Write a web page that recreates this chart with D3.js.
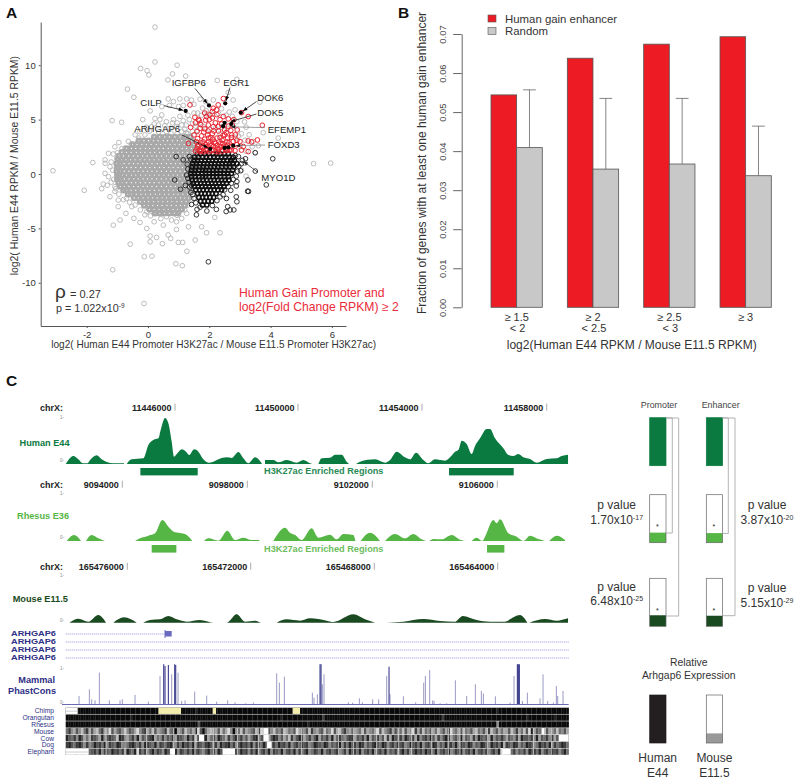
<!DOCTYPE html>
<html><head><meta charset="utf-8">
<script src="https://cdn.jsdelivr.net/npm/d3@7"></script>
<style>html,body{margin:0;padding:0;background:#fff}svg{display:block}text{font-family:"Liberation Sans",Arial,sans-serif}</style>
</head><body><svg id="c" width="800" height="783"></svg>
<script>
/* ---------- Panel A: read values, log2 promoter ratio (x) / log2 RPKM ratio (y) ---------- */
const grayCoreRows = [
[3.4,.2,.38,.55,.7,.88,1.05,1.22,1.38],
[3.05,-.3,-.13,.02,.18,.33,.5,.64,.8,.96,1.1,1.27,1.43],
[2.7,-.5,-.36,-.2,-.05,.1,.27,.41,.56,.72,.88,1.02,1.18,1.33,1.5],
[2.35,-.7,-.54,-.4,-.25,-.08,.05,.2,.35,.5,.66,.8,.95,1.12,1.26,1.42,1.56],
[2.0,-.85,-.7,-.55,-.38,-.24,-.1,.07,.22,.38,.52,.68,.82,.98,1.13,1.28,1.44,1.58],
[1.65,-.95,-.8,-.63,-.48,-.33,-.17,-.03,.13,.28,.44,.6,.74,.9,1.05,1.2,1.36,1.5],
[1.3,-.98,-.88,-.72,-.57,-.42,-.26,-.1,.05,.2,.35,.5,.66,.82,.96,1.12,1.27,1.42,1.55],
[.95,-1.02,-.92,-.78,-.62,-.47,-.33,-.17,-.02,.13,.3,.44,.6,.75,.9,1.04,1.2,1.35,1.5],
[.6,-1.0,-.96,-.84,-.7,-.55,-.4,-.24,-.08,.06,.22,.38,.52,.68,.82,.98,1.12,1.28,1.43],
[.25,-1.02,-.92,-.77,-.62,-.46,-.32,-.16,-.02,.13,.29,.44,.6,.74,.9,1.05,1.2,1.36,1.48],
[-.1,-1.0,-.95,-.84,-.7,-.54,-.4,-.24,-.08,.06,.21,.36,.52,.67,.82,.96,1.12,1.27,1.42],
[-.45,-1,-.92,-.77,-.62,-.46,-.32,-.16,-.01,.13,.28,.44,.59,.74,.88,1.04,1.2,1.34],
[-.8,-.96,-.85,-.7,-.54,-.4,-.25,-.09,.06,.2,.36,.52,.66,.82,.96,1.12,1.26,1.38],
[-1.15,-.9,-.78,-.62,-.47,-.32,-.16,-.02,.13,.28,.44,.6,.74,.89,1.04,1.2,1.33],
[-1.5,-.8,-.7,-.55,-.4,-.24,-.1,.06,.21,.36,.52,.67,.82,.96,1.12,1.26,1.36],
[-1.85,-.65,-.54,-.38,-.23,-.08,.08,.24,.38,.54,.68,.84,.98,1.14,1.29],
[-2.2,-.45,-.32,-.16,0,.15,.3,.46,.6,.76,.9,1.06,1.2,1.32],
[-2.55,-.25,-.12,.02,.18,.33,.48,.64,.78,.94,1.1,1.24],
[-2.9,-.12,0,.16,.31,.46,.62,.76,.92,1.06,1.2],
[-3.25,.05,.2,.36,.52,.66,.82,.96,1.1],
[-3.6,.22,.38,.54,.7,.86,.98]
];
const grayHalo = [
[.23,13.5],[.23,10.3],[.95,10],[-.24,9.7],[-.03,9.5],[.03,9.1],[.8,9.2],[1.23,9],[.65,8.65],[2.26,8.6],[2.62,7.5],[2.9,8.7],
[-.67,7.8],[-.46,7.05],[-1.17,4.9],[-.86,4.75],[.07,5.8],[-.17,5],[-3.1,.3],[-1.8,1.05],[-2.08,-1.5],[5.4,.95],[5.96,1],
[-.13,-11.9],[-1.15,-8.8],[-.12,-7.6],[.13,-7.55],[.91,-8.25],[1.12,-8.43],[1.27,-7.1],[-.58,-6.45],[.47,-6.4],
[.66,6.9],[.83,6.65],[1.04,6.9],[1.26,6.9],[1.42,6.8],[1.7,6.87],[1.88,6.65],[2.13,6.8],[2.78,6.8],[2.84,5.9],[3.65,6.6],[3.76,3.8],[4.25,3.3],
[.45,5.43],[.23,5.1],[.39,5],[.6,4.8],[.83,5],[1.04,5.3],[.12,4.35],[.34,4.5],[.72,4.2],[.93,4.35],[1.1,3.9],[-.26,3.9],[-.42,3.6],[-.1,3.6],
[-.64,3],[-.95,2.9],[-1.08,2.5],[-.75,2.36],[-1.29,1.9],[-1.13,1.84],[-1.4,1.3],[-1.02,1.44],[-1.4,.98],[-1.24,.67],[-1.4,.06],[-1.29,-.25],
[-1.46,-.92],[-1.51,-1.35],[-1.33,-1.04],[-1.24,-2.09],[-1.08,-1.17],[-1.08,-1.6],[-.97,-2.4],[-.97,-3],[-.7,-2.24],[-.53,-3],[-.72,-3.62],
[-.91,-4.23],[-1.13,-4.7],[-.46,-4.08],[-.26,-4.45],[-.04,-5],[-.04,-3.47],[.2,-4.39],[.5,-4.7],[.77,-4.23],[.93,-4.39],[1.32,-4.85],[1.75,-4.85],
[1.91,-5.4],[2.35,-5.4],[.93,-5.1],[.07,-5.7],[.28,-5.83],[.07,-6.23],[.66,-5.6],[.74,-5.92],[.99,-6.29],[1.13,-6.29],[1.54,-6.07],[2.18,-3.99],
[1.26,-3.62],[1.1,-4.08],[.6,-3.93],[.28,-3.62],[3.16,.98],[3,2.5],[3.16,3.1],[3.43,3],[3.49,1.96],[.75,3.75],[.95,3.7],[1.2,4.1],[1.45,4.6],
[1.62,5.6],[1.3,5.4],[1.78,6.05],[2.3,5.55],[2.55,5.4],[2.9,4.8],[2.35,3.7],[2.95,3.5],[3.2,2.1],[1.15,4.9],[.55,4.45],[.05,3.95],[3.05,.35],[3.2,-.2],
[1.3,3.7],[1.45,3.9],[1.6,4],[1.8,4.4],[1.55,4.4],[1.25,4.5],[1.35,5],[1.5,5.6],[1.75,5.4],[1.9,5.8],[2.1,5.5],[2.4,6],[2.65,5.7],[2.75,5.3],[3.15,4.8],[3.2,4.3],[3.3,3.6],[3.05,3.7],[2.85,3.3],[3.4,2.5],[3.6,2.6],[2.6,4.2],[2.4,4.3],[2.2,4.2],[2,4.1],[1.7,4.7],[1.95,5.5],[1.1,4.5],[.8,4.7],[.6,3.9],[.35,3.85],[1.25,3.8],[.95,4.7],[.2,4.6],[-.05,4.3],[1,6.2],[.7,6.3],[1.15,6.3],[1.5,6.4],[.45,6.2],
[-.3,3.3],[-.55,2.75],[-.85,2.35],[-1,1.95],[-1.2,1.1],[-1.15,.35],[-1.12,-.5],[-1.2,-.75],[-1.05,-1.35],[-.95,-1.85],[-.8,-2.35],[-.6,-2.6],[-.42,-2.85],[-.25,-3.3],[-.1,-3.75],[.08,-3.85],[.42,-4.1],[.95,-3.8],[1.2,-3.3],[1.3,-2.85],[1.42,-2.4]
];
const blackCoreRows = [
[1.85,1.72,1.86,1.98,2.12,2.24,2.36,2.5,2.62],
[1.55,1.52,1.64,1.78,1.9,2.02,2.15,2.27,2.4,2.52,2.66,2.78],
[1.25,1.5,1.62,1.74,1.86,1.98,2.1,2.22,2.34,2.46,2.58,2.7,2.82],
[.95,1.46,1.58,1.7,1.82,1.94,2.06,2.18,2.3,2.42,2.54,2.66,2.78,2.9],
[.65,1.44,1.56,1.68,1.8,1.92,2.04,2.16,2.28,2.4,2.54,2.66,2.8],
[.35,1.42,1.54,1.66,1.78,1.88,2,2.12,2.24,2.36,2.5,2.62,2.76],
[.05,1.4,1.52,1.64,1.76,1.88,2,2.12,2.24,2.36,2.48,2.6,2.72],
[-.25,1.42,1.54,1.66,1.78,1.88,2,2.12,2.24,2.36,2.5,2.62],
[-.55,1.44,1.56,1.68,1.8,1.92,2.04,2.16,2.28,2.4,2.52,2.64],
[-.85,1.48,1.6,1.72,1.84,1.96,2.08,2.2,2.32,2.44,2.56],
[-1.15,1.52,1.64,1.76,1.88,2,2.12,2.24,2.36,2.48],
[-1.45,1.56,1.68,1.8,1.92,2.04,2.16,2.28,2.4],
[-1.8,1.62,1.74,1.86,1.98,2.1,2.22],
[-2.15,1.66,1.78,1.9,2.02,2.14],
[-2.5,1.72,1.84,1.96,2.08],
[-2.85,1.78,1.92]
];
const blackHalo = [
[1.97,-8.07],[4.07,1.4],[3.86,-1],[3.5,.27],[3.26,-.55],[3.25,-1.58],[3.28,-1.6],[3.5,1.95],[3.18,1.4],[3.08,1.25],[2.9,-.7],[3.02,.3],
[.92,1.6],[1.15,1.3],[.87,-.55],[1.06,-1.4],[1.22,-1.05],[1.42,-2.8],[1.6,-3.25],[1.58,-3.75],[2.23,-3.25],[2.55,-3.45],[2.68,-3.3],[2.8,-3.3],
[2.6,-3],[2.56,-2.25],[2.88,-2.1],[2.9,-2.55],[2.45,-1.9],[2.7,-1.5],[2.88,-1.1],[2.75,1],[2.95,1.6],[1.35,1.6],[1.26,-.1],[1.4,-1.7],[1.92,-3.4],
[1.28,.9],[1.3,.45],[1.3,-.4],[1.34,-.75],[1.36,-1.2],[1.42,-1.05],[1.46,-1.9],[1.5,-2.25],[1.56,-2.65],[1.7,-3.05],[2.1,-2.9],[2.25,-2.45],[2.35,-2.1],[2.5,-1.45],[2.62,-1.15],[2.72,-.85],[2.78,-.5],[2.88,-.2],[2.92,.25],[2.96,.7],[3.05,.95],[1.4,1.35],[1.62,1.85],[2.75,1.4],[2.85,1.7]
];
const redHalo = [
[1.37,6.35],[2.46,6.93],[2.29,6.35],[2.13,6.04],[2.02,5.43],[1.91,5.28],[1.53,5.21],[1.67,4.91],[1.7,4.2],[1.39,4.29],[1.5,3.59],[1.32,2.82],
[1.97,4.5],[2.13,4.35],[2.24,5.9],[2.46,5.28],[2.62,5.06],[3.27,5.28],[3.05,5.64],[3.73,4.48],[2.91,4.05],[2.73,3.59],[3,2.98],[3.27,3.04],[3.38,2.95],
[3.57,3.13],[3.11,2.52],[3.27,2.06],[3.05,2.2],[2.84,2.15],[1.65,5.02],[2,5],[2.2,4.7],[2.35,5],[1.82,3.85],[1.95,3.6],[2.1,3.7],[2.3,3.95],
[2.45,3.55],[2.6,3.3],[2.7,4],[1.75,3.5],[1.62,3.25],[1.85,3.2],[2.05,3.35],[2.25,3.3],[2.42,3.1],[2.58,2.95],[2.78,3],[2.9,2.7],
[1.55,2.1],[1.62,2.55],[1.68,2.2],[1.72,2.85],[1.78,2.4],[1.82,2.05],[1.88,2.7],[1.92,2.3],[1.98,2.95],[2,2.05],[2.06,2.6],[2.12,2.25],[2.17,2.95],
[2.22,2.05],[2.26,2.6],[2.32,2.3],[2.38,2.85],[2.42,2.1],[2.48,2.55],[2.54,2.15],[2.6,2.65],[2.66,2.2],[2.7,2.5],[2.5,3.6],[1.58,2.95],[1.7,2.05],[1.8,2.95],[2.3,2.05],
[1.6,2.3],[1.66,2.7],[1.74,2.15],[1.84,2.5],[1.9,2.15],[1.96,2.55],[2.02,2.75],[2.08,2.15],[2.14,2.55],[2.2,2.8],[2.28,2.3],[2.36,2.55],[2.44,2.8],[2.52,2.35],[2.58,2.2],[2.64,2.85],[2.72,2.2],
[1.88,4.95],[1.72,4.55],[1.85,4.15],[2.15,3.95],[2.3,4.35],[2.5,4.05],[2.55,3.8],[2.75,4.5],[2.85,3.6],[2.1,5.15],[2.25,5.45],[2.4,4.6],[2.62,4.4],[2.8,5],[1.96,3.95],[1.6,3.9],[1.55,4.7],[2.12,3.2],[1.98,3.3],[2.35,3.35],[2.72,3.35],[2.9,3.1],[1.85,5.6],[2.1,5.75]
];
const genesHit = [[1.99,6.3],[2.52,6.5],[3.03,5.65],[1.23,5.8],[2.5,4.7],[2.45,4.4],[2.72,4.6],[2.03,2.3],[2.5,2.4],[2.62,2.45],[2.78,2.6]];
const calloutNames = ["IGFBP6","EGR1","DOK6","CILP","DOK5","EFEMP1","ARHGAP6","FOXD3","MYO1D"];
const calloutTargets = [[1.99,6.3],[2.52,6.5],[3.03,5.65],[1.23,5.8],[2.62,4.75],[2.62,4.35],[2.03,2.3],[2.78,2.6],[3.05,1.3]];
const xTicksA = [-2,0,2,4,6], yTicksA = [-10,-5,0,5,10];

/* ---------- Panel B ---------- */
const thresholds = [["≥ 1.5","< 2"],["≥ 2","< 2.5"],["≥ 2.5","< 3"],["≥ 3",""]];
const humanGain = [.0544,.0638,.0674,.0693];
const randomMean = [.0409,.0354,.0367,.0337];
const randomUpper = [.0557,.0535,.0535,.0464];
const yTicksB = [0,.01,.02,.03,.04,.05,.06,.07];

/* ---------- Panel C: signal read along the browser track (track position, signal) ---------- */
const humanE44 = [[197,0],[205,12],[220,24],[235,14],[248,2],[262,2],[270,12],[290,26],[305,14],[320,6],[340,2],[372,2],[373,null],[380,0],[395,14],[430,17],[445,57],[460,72],[475,77],[482,102],[495,138],[505,122],[515,67],[522,22],[532,32],[545,44],[558,37],[568,27],[582,44],[595,37],[610,14],[625,4],[640,7],[655,14],[680,20],[695,18],[715,36],[730,17],[745,2],[765,20],[785,2],[790,null],[795,12],[820,12],[835,5],[860,12],[870,10],[890,4],[910,12],[930,2],[936,0],[937,null],[955,0],[965,17],[990,19],[1005,28],[1025,28],[1040,7],[1047,0],[1048,null],[1068,0],[1080,7],[1125,14],[1155,4],[1170,12],[1190,37],[1215,20],[1230,14],[1248,34],[1270,12],[1285,2],[1305,14],[1335,10],[1350,20],[1365,37],[1375,42],[1385,70],[1400,60],[1415,30],[1425,54],[1440,77],[1460,105],[1470,105],[1485,77],[1510,47],[1525,27],[1540,24],[1555,30],[1570,20],[1590,15],[1610,4],[1640,15],[1670,17],[1685,24],[1704,28]];
const rhesusE36 = [[200,0],[222,18],[243,0],[244,null],[258,0],[275,18],[295,8],[315,0],[316,null],[405,0],[420,8],[445,16],[465,23],[487,63],[505,43],[525,26],[545,23],[560,18],[577,0],[578,null],[612,0],[625,8],[655,1],[682,31],[705,3],[730,10],[755,3],[778,3],[779,null],[820,0],[855,40],[870,25],[885,18],[905,3],[935,38],[955,10],[990,19],[1010,5],[1030,21],[1060,18],[1066,0],[1067,null],[1082,0],[1110,25],[1140,0],[1141,null],[1155,0],[1185,21],[1215,8],[1240,21],[1265,5],[1278,0],[1279,null],[1288,0],[1300,6],[1325,5],[1355,18],[1380,4],[1403,0],[1404,null],[1415,0],[1430,10],[1447,0],[1455,13],[1480,63],[1490,53],[1500,65],[1525,23],[1550,13],[1570,0],[1590,16],[1615,6],[1635,0],[1636,null],[1648,0],[1670,16],[1695,3]];
const mouseE115 = [[208,0],[235,12],[265,3],[295,23],[318,0],[319,null],[340,0],[372,16],[410,0],[411,null],[430,0],[450,8],[480,10],[505,20],[530,10],[560,3],[600,8],[640,0],[680,0],[710,25],[735,3],[765,6],[785,0],[815,0],[816,null],[830,0],[860,10],[900,6],[930,13],[980,6],[1000,2],[1060,25],[1095,10],[1125,0],[1126,null],[1160,0],[1210,3],[1270,11],[1320,5],[1365,3],[1388,20],[1430,8],[1470,3],[1510,3],[1560,23],[1582,0],[1583,null],[1588,0],[1635,11],[1670,6],[1704,13]];
const humanRegions = [[421,593],[1347,1541]];
const rhesusRegions = [[455,529],[1461,1513]];
const phastPos = [237,268,275,285,298,328,360,367,405,445,480,491,495,505,515,524,527,534,545,555,584,620,650,683,705,737,760,830,838,853,937,942,952,960,963,967,972,1045,1058,1078,1087,1118,1136,1160,1167,1170,1210,1247,1271,1276,1289,1298,1302,1320,1340,1366,1400,1426,1444,1450,1486,1530,1542,1552,1555,1558,1567,1582,1620,1629,1643,1660,1669,1673,1689];
const phastHeight = [25,45,15,12,95,12,12,15,28,8,85,120,115,118,90,120,118,95,10,12,38,26,8,12,6,3,5,93,65,83,35,20,30,120,120,60,90,6,5,18,6,15,15,85,113,30,24,6,65,85,103,12,10,3,3,72,25,60,40,32,24,5,85,120,120,120,10,35,18,90,10,5,55,25,40];
const geneNames = ["ARHGAP6","ARHGAP6","ARHGAP6","ARHGAP6"];
const speciesNames = ["Chimp","Orangutan","Rhesus","Mouse","Cow","Dog","Elephant"];
const conservation = [
"0000000000000000000000000000000000000000000000000000100000000000000000000000000000000000000000000000000000000000000000000000000000000000000000000000000000000000000000000000010000000000000000000000000000",
"0000000000000000000000000010000000000000000000000000000000000000000000000000000000000010000000000000000200000000000000000000000000000000000000000000000200000000000000000000000000000000010000000000100000",
"0000000000000000000000000000000000000000000000000000030000000000000000000000000000000000000000000100000000000000000000000000000000000000000000000000000000000000000000000000050000000000000000000000000000",
"4256357425367426583643575346853264736542743065375461830467563746850547365437285635745376453864537256437458367425636547365468375426354736582637453647536285463745367453627536456375264738163457365474536",
"1342513645234615323471236425163432164525341623451427323164251346253142536421532463125364725312642531634251632453216342516342537261342513426153241362531264351634625134261534216345261334251634251637253",
"2134213523413241523412534213425123415234213524132415234213425132142531324152341253241324153241325412341253421524132412534213412532413254132415324125341324152341253412351324152341253412354132415243124",
"2343142351324152341324251341824253142351324152342413245314251342513241325241532415234153241524315423415324315425132415324153241534253142531324132415324154231532415324153241823142534251324153241325314"
];
const lightStripes = [270,318,375,440,520,585,640,712,775,905,1015,1060,1130,1195,1235,1295,1345,1380,1462,1512,1600,1655];
const yellowSpans = [[475,543],[638,648],[878,900]];
const whiteSpans = [[0,197,233],[6,197,266],[3,790,805],[3,1625,1632],[4,597,612],[4,790,806],[4,1677,1706],[5,800,815],[6,510,525],[6,668,705],[6,1507,1532]];
const relPromoter = [1,.21,.23], relEnhancer = [1,.2,.22], relExpression = [1,.2];

/* ---------- drawing ---------- */
const svg = d3.select("#c");
function txt(s,x,y,o={}){
  const t=svg.append("text").attr("x",x).attr("y",y).attr("font-size",o.size||10).attr("fill",o.fill||"#333")
    .attr("text-anchor",o.anchor||"start").attr("font-weight",o.weight||"normal").text(s);
  if(o.rotate) t.attr("transform",`rotate(${o.rotate} ${x} ${y})`);
  if(o.len) t.attr("textLength",o.len).attr("lengthAdjust","spacingAndGlyphs");
  return t;
}
function sup(t,s,size){t.append("tspan").attr("dy",-4).attr("font-size",size).text(s);}

/* Panel letters */
txt("A",6,17.7,{size:15.5,weight:"bold",fill:"#111"});
txt("B",398,17.7,{size:15.5,weight:"bold",fill:"#111"});
txt("C",6,385.7,{size:15.5,weight:"bold",fill:"#111"});

/* Panel A */
const xA=d3.scaleLinear([-3.5,6.46],[40.7,346]), yA=d3.scaleLinear([-13.97,13.97],[326,22]);
const ringLayer=(pts,color,w,r=2.35)=>svg.append("g").selectAll("circle").data(pts).join("circle")
  .attr("cx",d=>xA(d[0])).attr("cy",d=>yA(d[1])).attr("r",r).attr("fill","none").attr("stroke",color).attr("stroke-width",w);
const expand=rows=>rows.flatMap(r=>r.slice(1).map(x=>[x,r[0]]));
ringLayer(grayHalo,"#b4b4b4",.9);
ringLayer(expand(grayCoreRows),"#a9a9a9",2.6,2);
ringLayer(blackHalo,"#222",.9);
ringLayer(expand(blackCoreRows),"#111",1.5,2.1);
ringLayer(redHalo,"#e8232f",1);
svg.append("g").selectAll("circle").data(genesHit).join("circle")
  .attr("cx",d=>xA(d[0])).attr("cy",d=>yA(d[1])).attr("r",2.1).attr("fill","#000");

const gxA=svg.append("g").attr("transform","translate(0,326)").call(d3.axisBottom(xA).tickValues(xTicksA).tickFormat(String).tickSize(2).tickSizeOuter(0));
const gyA=svg.append("g").attr("transform","translate(40.7,0)").call(d3.axisLeft(yA).tickValues(yTicksA).tickFormat(String).tickSize(2).tickSizeOuter(0));
[gxA,gyA].forEach(g=>{g.selectAll("path,line").attr("stroke","#555");g.selectAll("text").attr("font-size",9.5).attr("fill","#333");});
gxA.selectAll("text").attr("dy",0).attr("y",11.5);
txt("log2( Human E44 Promoter H3K27ac / Mouse E11.5 Promoter H3K27ac)",213.7,348,{size:10.05,anchor:"middle"});
txt("log2( Human E44 RPKM / Mouse E11.5 RPKM)",18.5,165.7,{size:10.4,anchor:"middle",rotate:-90});

const labelAnchors=[[171.7,85.7],[223.3,85.7],[257.3,100.7],[140.3,106],[257.3,116.3],[267.7,132.7],[134.3,132.3],[267.7,147.7],[261.3,181.3]];
const arrowStarts=[[195,88.5],[230,87.5],[256.5,101.5],[164,105.7],[256.5,114],[265,127.7],[182,135],[265,145],[258,172.5]];
const arrowColors=["#000","#000","#000","#000","#000","#777","#000","#777","#222"];
calloutNames.forEach((n,i)=>{
  const c=arrowColors[i], tx=xA(calloutTargets[i][0]), ty=yA(calloutTargets[i][1]);
  const [sx,sy]=arrowStarts[i]; const a=Math.atan2(ty-sy,tx-sx); const gap=2.5, ex=tx-gap*Math.cos(a), ey=ty-gap*Math.sin(a);
  svg.append("line").attr("x1",sx).attr("y1",sy).attr("x2",ex).attr("y2",ey).attr("stroke",c).attr("stroke-width",.7);
  const L=4.5,W=1.8,bx=ex-L*Math.cos(a),by=ey-L*Math.sin(a);
  svg.append("path").attr("d",`M${ex},${ey}L${bx-W*Math.sin(a)},${by+W*Math.cos(a)}L${bx+W*Math.sin(a)},${by-W*Math.cos(a)}Z`).attr("fill",c==="#777"?"#222":c);
  txt(n,labelAnchors[i][0],labelAnchors[i][1],{size:9.6,fill:"#222"});
});
txt("ρ",55,297.7,{size:19,fill:"#333"});
txt("= 0.27",70,297.7,{size:11,fill:"#333"});
sup(txt("p = 1.022x10",56,311.7,{size:10.8,fill:"#333"}),"-9",6.5);
txt("Human Gain Promoter and",239,296.7,{size:12.2,fill:"#ea2b3a"});
txt("log2(Fold Change RPKM) ≥ 2",239,310.7,{size:12.2,fill:"#ea2b3a"});

/* Panel B */
const xB=d3.scaleBand(d3.range(4),[491,771.3]).paddingInner(.328).paddingOuter(0);
const yB=d3.scaleLinear([0,.07],[307.3,34]);
const gB=svg.append("g").selectAll("g").data(humanGain).join("g").attr("transform",(d,i)=>`translate(${xB(i)},0)`);
const bw=xB.bandwidth()/2;
gB.append("rect").attr("y",d=>yB(d)).attr("height",d=>yB(0)-yB(d)).attr("width",bw).attr("fill","#ed1c24").attr("stroke","#555").attr("stroke-width",.8);
gB.append("rect").attr("x",bw).attr("y",(d,i)=>yB(randomMean[i])).attr("height",(d,i)=>yB(0)-yB(randomMean[i])).attr("width",bw).attr("fill","#c8c8c8").attr("stroke","#555").attr("stroke-width",.8);
gB.append("line").attr("x1",bw*1.5).attr("x2",bw*1.5).attr("y1",(d,i)=>yB(randomMean[i])).attr("y2",(d,i)=>yB(randomUpper[i])).attr("stroke","#666").attr("stroke-width",.8);
gB.append("line").attr("x1",bw*1.5-6.4).attr("x2",bw*1.5+6.4).attr("y1",(d,i)=>yB(randomUpper[i])).attr("y2",(d,i)=>yB(randomUpper[i])).attr("stroke","#666").attr("stroke-width",.8);
const gyB=svg.append("g").attr("transform","translate(461.7,0)").call(d3.axisLeft(yB).tickValues(yTicksB).tickFormat(d3.format(".2f")).tickSize(8.5).tickSizeOuter(0));
gyB.selectAll("path,line").attr("stroke","#666");
gyB.selectAll("text").attr("font-size",9.4).attr("fill","#444").attr("text-anchor","middle").attr("dy",0).attr("x",0).attr("y",0)
  .attr("transform","translate(-15.3,0) rotate(-90)");
thresholds.forEach((t,i)=>{
  const c=xB(i)+xB.bandwidth()/2;
  txt(t[0],c,320.7,{size:11,anchor:"middle",fill:"#333"});
  if(t[1])txt(t[1],c+1,332,{size:11,anchor:"middle",fill:"#333"});
});
txt("log2(Human E44 RPKM / Mouse E11.5 RPKM)",631.7,349,{size:12,anchor:"middle"});
txt("Fraction of genes with at least one human gain enhancer",426,163,{size:12,anchor:"middle",rotate:-90});
svg.append("rect").attr("x",488).attr("y",15).attr("width",8).attr("height",7).attr("fill","#ed1c24").attr("stroke","#555").attr("stroke-width",.6);
svg.append("rect").attr("x",488).attr("y",27.5).attr("width",8).attr("height",7).attr("fill","#c8c8c8").attr("stroke","#555").attr("stroke-width",.6);
txt("Human gain enhancer",505,23,{size:11.4});
txt("Random",505,35.3,{size:11.4});

/* Panel C tracks */
const xT=d3.scaleLinear([197,1706],[65.7,568.7]);
const ticksRows=[
 {y:410.7,items:[["11446000",175],["11450000",298],["11454000",422],["11458000",546.7]]},
 {y:487.7,items:[["9094000",122.3],["9098000",247.3],["9102000",372.3],["9106000",497.3]]},
 {y:569.7,items:[["165476000",127.3],["165472000",250.7],["165468000",374.3],["165464000",497.7]]}];
ticksRows.forEach(r=>{
  txt("chrX:",40,r.y,{size:9,weight:"bold",fill:"#222"});
  r.items.forEach(([s,x])=>{
    txt(s,x-3.5,r.y,{size:9,weight:"bold",anchor:"end",fill:"#222"});
    svg.append("line").attr("x1",x).attr("x2",x).attr("y1",r.y-7).attr("y2",r.y).attr("stroke","#888").attr("stroke-width",.7);
  });
});
function track(data,base,color){
  const y=d3.scaleLinear([0,139],[base,base-46.3]);
  const area=d3.area().defined(d=>d[1]!==null).x(d=>xT(d[0])).y0(base).y1(d=>y(d[1])).curve(d3.curveMonotoneX);
  svg.append("path").attr("d",area(data)).attr("fill",color);
}
const greenH="#0b7a40",greenR="#55b545",greenM="#1a4a20";
track(humanE44,464,greenH);track(rhesusE36,541,greenR);track(mouseE115,622.7,greenM);
[[humanRegions,468,7.4,greenH],[rhesusRegions,545,7.6,greenR]].forEach(([rs,y,h,c])=>{
  svg.append("g").selectAll("rect").data(rs).join("rect").attr("x",d=>xT(d[0])).attr("width",d=>xT(d[1])-xT(d[0])).attr("y",y).attr("height",h).attr("fill",c);
});
txt("H3K27ac Enriched Regions",264,474,{size:9.2,weight:"bold",fill:"#2a8a55"});
txt("H3K27ac Enriched Regions",264,552,{size:9.2,weight:"bold",fill:"#6cbd5c"});
txt("Human E44",19.5,446,{size:9.2,weight:"bold",fill:greenH});
txt("Rhesus E36",17,519.3,{size:9.2,weight:"bold",fill:greenR});
txt("Mouse E11.5",12.7,602,{size:9.2,weight:"bold",fill:greenM});
[[417.5,"1-"],[461,"0-"],[494,"1-"],[538,"0-"],[575.5,"1-"],[621,"0-"],[669,"1-"],[703,"0-"]].forEach(([y,s])=>txt(s,60,y+1,{size:4.5,fill:"#888"}));

/* genes */
const blueDk="#2e2f85";
geneNames.forEach((n,i)=>{
  const y=634+i*8;
  txt(n,11,y+2,{size:6.9,weight:"bold",fill:blueDk,len:45});
  svg.append("line").attr("x1",xT(197)).attr("x2",i===0?xT(495):xT(1706)).attr("y1",y).attr("y2",y).attr("stroke","#8f8fd8").attr("stroke-width",1).attr("stroke-dasharray","1,1");
});
svg.append("rect").attr("x",xT(495)).attr("y",631).attr("width",xT(515)-xT(495)).attr("height",5.5).attr("fill","#6a6ac0");
svg.append("line").attr("x1",xT(495)).attr("x2",xT(495)).attr("y1",630).attr("y2",638).attr("stroke","#6a6ac0");

/* PhastCons */
const yP=d3.scaleLinear([0,120],[704.3,664.3]);
svg.append("g").selectAll("line").data(phastPos).join("line").attr("x1",d=>xT(d)).attr("x2",d=>xT(d))
  .attr("y1",yP(0)).attr("y2",(d,i)=>yP(phastHeight[i])).attr("stroke",blueDk).attr("stroke-width",(d,i)=>phastHeight[i]>=110?1.1:.8).attr("stroke-opacity",(d,i)=>phastHeight[i]>=110?.95:.62);
svg.append("line").attr("x1",62).attr("x2",xT(1706)).attr("y1",704.5).attr("y2",704.5).attr("stroke","#5a5aa8").attr("stroke-width",.9);
txt("Mammal",55,683.3,{size:9.2,weight:"bold",anchor:"end",fill:blueDk});
txt("PhastCons",56,694.3,{size:9.2,weight:"bold",anchor:"end",fill:blueDk});

/* conservation heat rows */
const shade=d3.scaleLinear([0,9],["#0a0a0a","#f2f2f2"]);
const rowY=d3.scaleBand(d3.range(7),[707.7,754.8]).paddingInner(.08);
conservation.forEach((str,r)=>{
  const xC=d3.scaleLinear([0,str.length],[xT(197),xT(1706)]);
  svg.append("g").selectAll("rect").data(Array.from(str)).join("rect")
    .attr("x",(d,i)=>xC(i)).attr("width",(d,i)=>xC(i+1)-xC(i)+.2).attr("y",rowY(r)).attr("height",rowY.bandwidth()).attr("fill",d=>shade(+d));
  txt(speciesNames[r],54,rowY(r)+5.6,{size:6.7,anchor:"end",fill:blueDk});
  if(r>=3) svg.append("g").selectAll("line").data(lightStripes).join("line").attr("x1",d=>xT(d)).attr("x2",d=>xT(d)).attr("y1",rowY(r)).attr("y2",rowY(r)+rowY.bandwidth()).attr("stroke","#ddd").attr("stroke-width",.8);
});
svg.append("g").selectAll("rect").data(yellowSpans).join("rect").attr("x",d=>xT(d[0])).attr("width",d=>xT(d[1])-xT(d[0])).attr("y",rowY(0)).attr("height",rowY.bandwidth()).attr("fill","#f3eeae");
svg.append("g").selectAll("rect").data(whiteSpans).join("rect").attr("x",d=>xT(d[1])).attr("width",d=>xT(d[2])-xT(d[1])).attr("y",d=>rowY(d[0])).attr("height",rowY.bandwidth()).attr("fill","#fff");
svg.append("g").selectAll("line").data(whiteSpans.filter(d=>d[1]===197)).join("line").attr("x1",d=>xT(d[1])).attr("x2",d=>xT(d[2])).attr("y1",d=>rowY(d[0])+3.5).attr("y2",d=>rowY(d[0])+3.5).attr("stroke","#999").attr("stroke-width",.5);

/* Panel C right bars */
const barY=d3.scaleLinear([0,1],[48,0]);
function miniBar(x,top,val,color,outline){
  const w=16.3;
  if(val<1) svg.append("rect").attr("x",x).attr("y",top).attr("width",w).attr("height",48).attr("fill","#fff");
  svg.append("rect").attr("x",x).attr("y",top+barY(val)).attr("width",w).attr("height",48-barY(val)).attr("fill",color);
  svg.append("rect").attr("x",x).attr("y",top).attr("width",w).attr("height",48).attr("fill","none").attr("stroke",outline).attr("stroke-width",.7);
  if(outline==="#666"&&color!=="#999") txt("*",x+6.3,top+34.5,{size:7,fill:"#222"});
}
const colP=649.7,colE=706.3,rowTops=[417.7,494.7,578.3],cols=[greenH,greenR,greenM];
relPromoter.forEach((v,i)=>miniBar(colP,rowTops[i],v,cols[i],i?"#666":greenH));
relEnhancer.forEach((v,i)=>miniBar(colE,rowTops[i],v,cols[i],i?"#666":greenH));
miniBar(colP,695,relExpression[0],"#231f20","#231f20");
miniBar(colE,695,relExpression[1],"#999","#666");
[[666,672.3,533],[666,678.7,616],[722.6,728.3,533.5],[722.6,735,615.7]].forEach(([x0,x1,yb])=>{
  svg.append("path").attr("d",`M${x0},418H${x1}V${yb}H${x0}`).attr("fill","none").attr("stroke","#aaa").attr("stroke-width",.9);
});
txt("Promoter",659,408,{size:8.9,anchor:"middle",fill:"#444"});
txt("Enhancer",720.7,408,{size:8.9,anchor:"middle",fill:"#444"});
[[616.7,509,524,"1.70x10","-17"],[767,509,524,"3.87x10","-20"],[616.7,590.7,605,"6.48x10","-25"],[767,592,607,"5.15x10","-29"]].forEach(([x,y1,y2,m,e])=>{
  txt("p value",x,y1,{size:12,anchor:"middle",fill:"#333"});
  sup(txt(m,x,y2,{size:12,anchor:"middle",fill:"#333"}),e,7);
});
txt("Relative",688.7,666,{size:10.4,anchor:"middle",fill:"#333"});
txt("Arhgap6 Expression",688.7,679,{size:10.4,anchor:"middle",fill:"#333"});
txt("Human",657.7,762,{size:12,anchor:"middle",fill:"#333"});
txt("E44",657.7,777,{size:12,anchor:"middle",fill:"#333"});
txt("Mouse",714.4,762,{size:12,anchor:"middle",fill:"#333"});
txt("E11.5",714.4,777,{size:12,anchor:"middle",fill:"#333"});
</script></body></html>
